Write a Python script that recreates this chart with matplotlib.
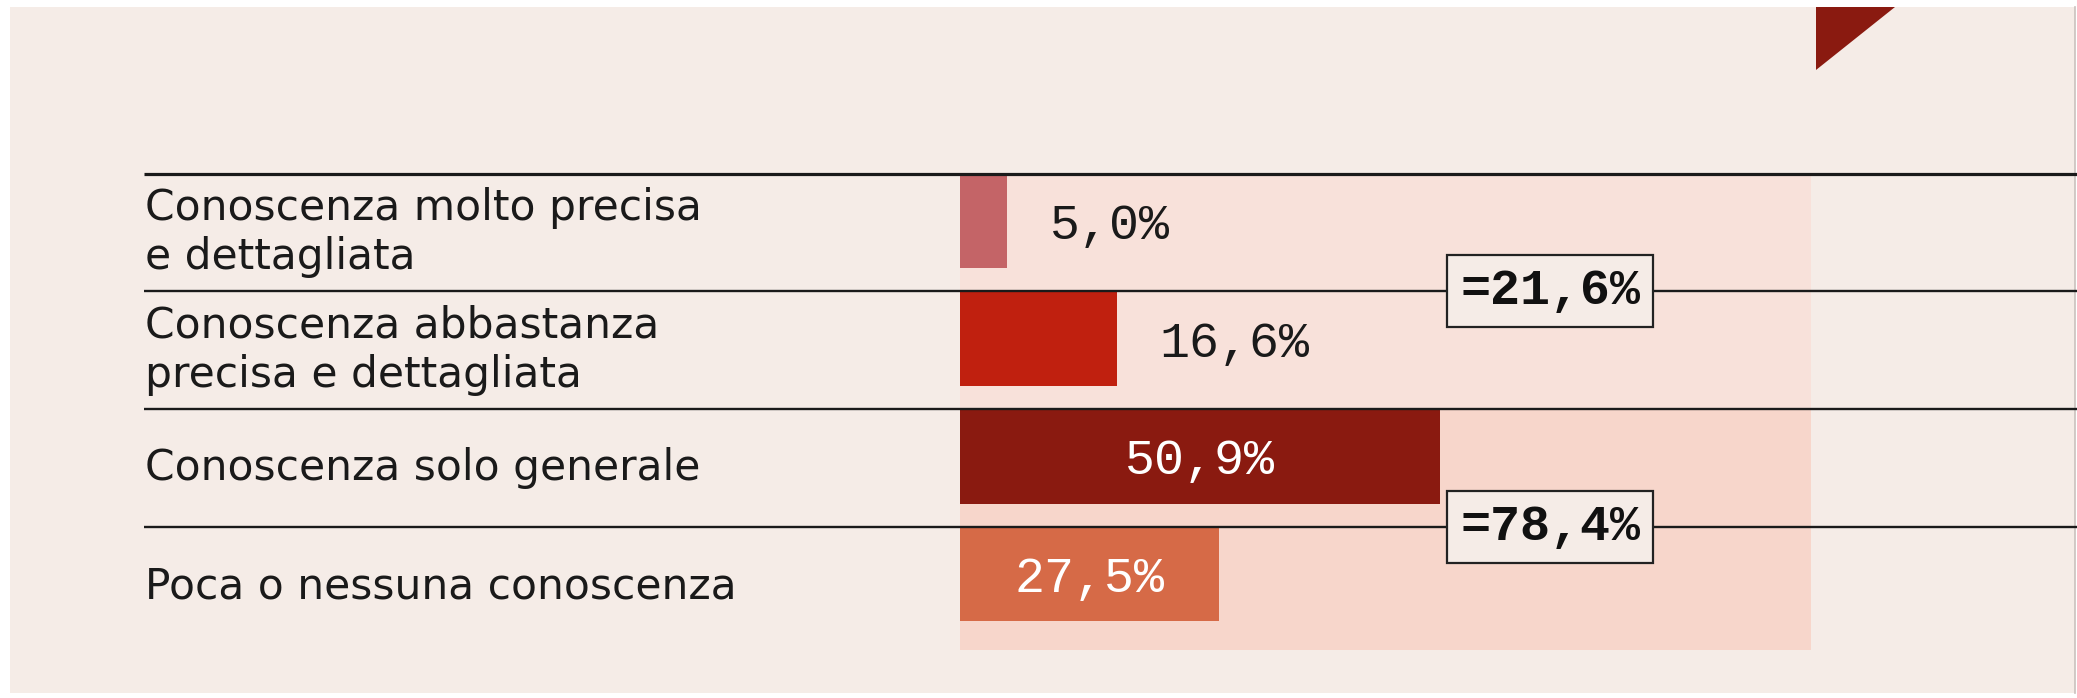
import matplotlib
matplotlib.use("Agg")
import matplotlib.pyplot as plt
from matplotlib.patches import Rectangle, Polygon

# data
categories = [
    "Conoscenza molto precisa\ne dettagliata",
    "Conoscenza abbastanza\nprecisa e dettagliata",
    "Conoscenza solo generale",
    "Poca o nessuna conoscenza",
]
values = [5.0, 16.6, 50.9, 27.5]
bar_colors = ["#C46467", "#C0200F", "#8A1A10", "#D66A47"]
groups = [[0, 1], [2, 3]]


def fmt(v):
    return f"{v:.1f}%".replace(".", ",")


def plotChart():
    W, H = 2077, 698
    fig = plt.figure(figsize=(W / 100, H / 100), dpi=100, facecolor="white")

    # page background and corner mark
    fig.patches.append(Rectangle((10 / W, 5 / H), 2065 / W, 686 / H,
                                 transform=fig.transFigure, fc="#F5ECE7", ec="none", zorder=-2))
    fig.lines.append(plt.Line2D([2075 / W, 2075 / W], [5 / H, 691 / H],
                                transform=fig.transFigure, color="#C9C1BD", lw=1.2, zorder=-1))
    fig.patches.append(Polygon([(1816 / W, 1 - 7 / H), (1895 / W, 1 - 7 / H), (1816 / W, 1 - 70 / H)],
                               closed=True, transform=fig.transFigure, fc="#8A1A10", ec="none", zorder=-1))

    ax = fig.add_axes([0, 0, 1, 1])
    ax.set_zorder(1)
    ax.set_facecolor("none")
    ax.axis("off")
    ax.set_xlim(-101.9, 118.5)
    ax.set_ylim(4.449, -1.472)

    # shaded panel behind the bars
    panel_colors = ["#F8E1DA", "#F7D6CB"]
    for g, grp in enumerate(groups):
        top = grp[0]
        bottom = grp[-1] + 1 if g < len(groups) - 1 else grp[-1] + 1.04
        ax.add_patch(Rectangle((0, top), 90.3, bottom - top, fc=panel_colors[g], ec="none", zorder=1))

    ys = [i + 0.4 for i in range(len(values))]
    ax.barh(ys, values, height=0.8, color=bar_colors, zorder=2)

    # row separators
    for i in range(len(categories)):
        ax.plot([-86.6, 118.5], [i, i], color="#1A1A1A", lw=2.3 if i == 0 else 1.7,
                zorder=3, solid_capstyle="butt")

    for i, (cat, v) in enumerate(zip(categories, values)):
        ax.text(-86.5, i + 0.5, cat, ha="left", va="center", fontsize=30.5,
                family="DejaVu Sans", color="#1A1A1A", linespacing=1.22, zorder=4)
        if v > 20:
            ax.text(v / 2, ys[i], fmt(v), ha="center", va="center_baseline", fontsize=36,
                    family="Liberation Mono", color="white", zorder=4)
        else:
            ax.text(v + 4.5, ys[i], fmt(v), ha="left", va="center_baseline", fontsize=36,
                    family="Liberation Mono", color="#1A1A1A", zorder=4)

    # group totals in boxes on the middle separator of each group
    for grp in groups:
        total = sum(values[k] for k in grp)
        ax.text(62.6, grp[1], "=" + fmt(total), ha="center", va="center", fontsize=36,
                family="Liberation Mono", weight="bold", color="#111111", zorder=5,
                bbox=dict(boxstyle="square,pad=0.26", fc="#F5ECE7", ec="#222222", lw=1.6))

    fig.savefig("out.png", dpi=100, facecolor="white")


def main():
    plotChart()


if __name__ == "__main__":
    main()
